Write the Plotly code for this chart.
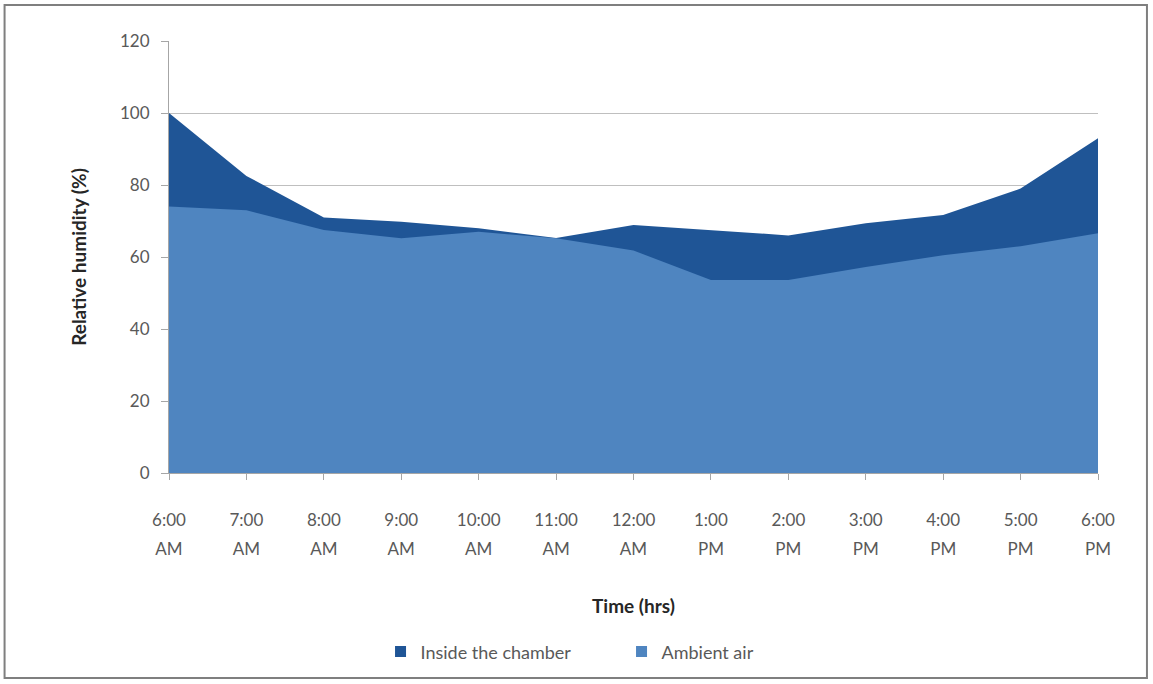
import plotly.graph_objects as go

times = ["6:00 AM", "7:00 AM", "8:00 AM", "9:00 AM", "10:00 AM", "11:00 AM", "12:00 AM",
         "1:00 PM", "2:00 PM", "3:00 PM", "4:00 PM", "5:00 PM", "6:00 PM"]
hour_labels = ["6:00", "7:00", "8:00", "9:00", "10:00", "11:00", "12:00",
               "1:00", "2:00", "3:00", "4:00", "5:00", "6:00"]
period_labels = ["AM", "AM", "AM", "AM", "AM", "AM", "AM",
                 "PM", "PM", "PM", "PM", "PM", "PM"]
inside = [100, 82.5, 71, 69.8, 68, 65.3, 68.9, 67.5, 66, 69.4, 71.7, 79, 93]
ambient = [74, 73, 67.5, 65.2, 67, 65.2, 61.8, 53.6, 53.6, 57.2, 60.5, 63, 66.6]
y_ticks = [0, 20, 40, 60, 80, 100, 120]

FONT = "Lato, 'Open Sans', sans-serif"
GRAY = "#595959"
DARK = "#1F5596"
LIGHT = "#4F85C0"
idx = list(range(len(times)))

fig = go.Figure()
fig.add_trace(go.Scatter(x=idx, y=inside, name="Inside the chamber", mode="lines",
                         fill="tozeroy", line=dict(width=0, color=DARK),
                         fillcolor=DARK, showlegend=False))
fig.add_trace(go.Scatter(x=idx, y=ambient, name="Ambient air", mode="lines",
                         fill="tozeroy", line=dict(width=0, color=LIGHT),
                         fillcolor=LIGHT, showlegend=False))
# legend entries with square swatches
fig.add_trace(go.Scatter(x=[None], y=[None], name="Inside the chamber", mode="markers",
                         marker=dict(symbol="square", size=11, color=DARK)))
fig.add_trace(go.Scatter(x=[None], y=[None], name="Ambient air", mode="markers",
                         marker=dict(symbol="square", size=11, color=LIGHT)))
# second-line (AM/PM) labels on an overlaid axis
fig.add_trace(go.Scatter(x=idx, y=[None]*len(idx), xaxis="x2", showlegend=False,
                         hoverinfo="skip"))

fig.update_layout(
    width=1153, height=684,
    margin=dict(l=169, r=55, t=41, b=211),
    paper_bgcolor="white", plot_bgcolor="white",
    font=dict(family=FONT, color=GRAY, size=17),
    xaxis=dict(range=[0, 12], tickmode="array", tickvals=idx, ticktext=hour_labels,
               showgrid=False, zeroline=False, showline=True, linecolor="#A6A6A6",
               linewidth=1, ticks="outside", ticklen=6, tickcolor="#A6A6A6",
               ticklabelstandoff=26,
               title=dict(text="<b>Time (hrs)</b>", font=dict(size=19, color="#262626"),
                          standoff=70)),
    xaxis2=dict(range=[0, 12], overlaying="x", side="bottom", anchor="y",
                tickmode="array", tickvals=idx, ticktext=period_labels,
                showgrid=False, zeroline=False, showline=False, ticks="",
                ticklabelstandoff=64, tickfont=dict(size=17, color=GRAY)),
    yaxis=dict(range=[0, 120], tickmode="array", tickvals=y_ticks,
               showgrid=True, gridcolor="#BFBFBF", gridwidth=1, zeroline=False,
               showline=True, linecolor="#A6A6A6", linewidth=1,
               ticks="outside", ticklen=7, tickcolor="#A6A6A6",
               ticklabelstandoff=8,
               title=dict(text="<b>Relative humidity (%)</b>",
                          font=dict(size=19, color="#262626"), standoff=28)),
    legend=dict(orientation="h", x=0.2277, xanchor="left", y=-0.414, yanchor="middle",
                font=dict(size=18, color=GRAY), itemwidth=30, traceorder="normal",
                entrywidth=196, entrywidthmode="pixels",
                bgcolor="rgba(0,0,0,0)"),
    showlegend=True,
)

fig.add_shape(type="rect", xref="paper", yref="paper",
              x0=-0.177, x1=1.0527, y0=-0.4745, y1=1.0833,
              line=dict(color="#7F7F7F", width=2), layer="below")

fig.write_html("out.html")
